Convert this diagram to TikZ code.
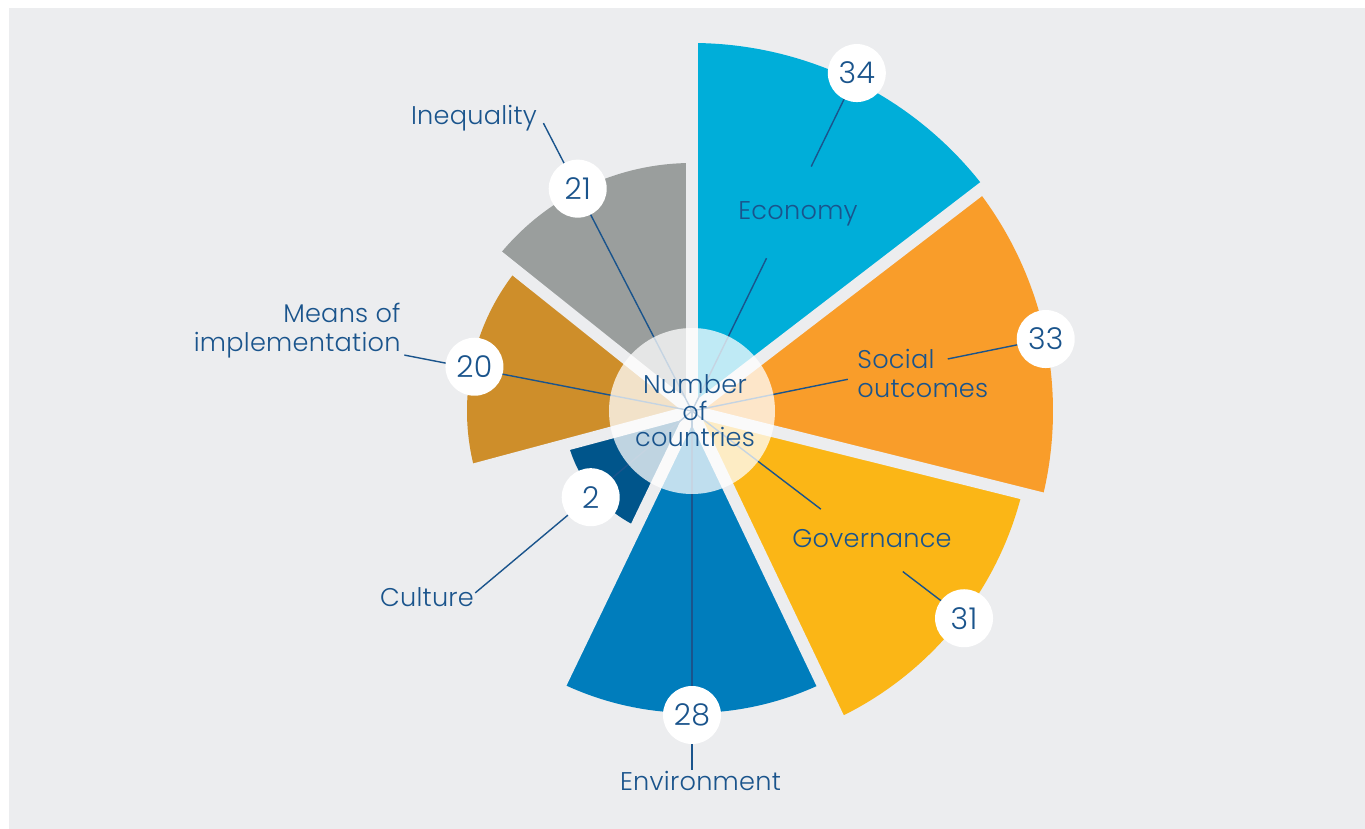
\documentclass[tikz,border=0pt]{standalone}
\usepackage{fontspec}
\setmainfont{Poppins}[UprightFont=* Light, LetterSpace=1]
\usetikzlibrary{positioning}
\definecolor{bggray}{RGB}{236,237,239}
\definecolor{econ}{RGB}{0,174,217}
\definecolor{social}{RGB}{249,157,42}
\definecolor{gov}{RGB}{251,182,22}
\definecolor{envir}{RGB}{0,125,188}
\definecolor{cult}{RGB}{0,85,139}
\definecolor{means}{RGB}{206,142,42}
\definecolor{ineq}{RGB}{154,158,157}
\definecolor{ink}{RGB}{26,84,140}
\tikzset{
  lead/.style={ink, line width=0.7pt},
  numdot/.style={circle, fill=white, minimum size=29pt, inner sep=0pt, text=ink, font=\fontsize{15}{15}\selectfont},
  lab/.style={text=ink, inner sep=0pt, font=\fontsize{12.8}{14.5}\selectfont},
}

\begin{document}
\begin{tikzpicture}[x=0.5pt, y=0.5pt]
\useasboundingbox (-692,-418) rectangle (673,411);
\fill[white] (-692,-418) rectangle (673,411);
\fill[bggray] (-683,-418) rectangle (673,403);
\coordinate (ctr) at (0,0);
% sectors: start / end / radius / colour
\foreach \a/\b/\r/\c in {37.5/90/368/econ, -14/37.5/361/social, -64.5/-14/340/gov,
    -115.7/-64.5/302/envir, -165/-115.7/128/cult, 141.4/195/225/means, 90/141.4/248/ineq}
  \fill[\c] (ctr) -- (\a:\r) arc[start angle=\a, end angle=\b, radius=\r] -- cycle;
% gaps between sectors
\foreach \g in {90, 37.5, -14, -64.5, -115.7, -165, 141.4}
  \draw[bggray, line width=6pt] (ctr) -- (\g:400);

% where the numbers sit
\coordinate (econ-pos) at (64:376);
\coordinate (soc-pos) at (11.5:361);
\coordinate (gov-pos) at (-37.3:342);
\coordinate (env-pos) at (-90:304);
\coordinate (cult-pos) at (220.4:133);
\coordinate (means-pos) at (168.5:222);
\coordinate (ineq-pos) at (117.2:250);
% ends of the leader lines
\coordinate (econ-in) at (64:170);
\coordinate (econ-out) at (64:272);
\coordinate (soc-in) at (11.5:159);
\coordinate (soc-out) at (11.5:261);
\coordinate (gov-in) at (-37.3:162);
\coordinate (gov-out) at (-37.3:265);
\coordinate (env-end) at (-90:359);
\coordinate (cult-end) at (220:283);
\coordinate (means-end) at (169:293);
\coordinate (ineq-end) at (117.3:324);

\draw[lead] (ctr) -- (econ-in) (econ-out) -- (econ-pos);
\draw[lead] (ctr) -- (soc-in) (soc-out) -- (soc-pos);
\draw[lead] (ctr) -- (gov-in) (gov-out) -- (gov-pos);
\draw[lead] (ctr) -- (env-end);
\draw[lead] (ctr) -- (cult-end);
\draw[lead] (ctr) -- (means-end);
\draw[lead] (ctr) -- (ineq-end);

% pale disc in the middle
\fill[white, opacity=0.75] (ctr) circle[radius=83];
\node[lab, align=center, font=\fontsize{12.8}{13.3}\selectfont] (title) at (3,0) {Number\\of\\countries};

\node[numdot] (econ-num) at (econ-pos) {34};
\node[numdot] (soc-num) at (soc-pos) {33};
\node[numdot] (gov-num) at (gov-pos) {31};
\node[numdot] (env-num) at (env-pos) {28};
\node[numdot] (cult-num) at (cult-pos) {2};
\node[numdot] (means-num) at (means-pos) {20};
\node[numdot] (ineq-num) at (ineq-pos) {21};

\node[lab, anchor=base] (econ-lab) at (106,191) {Economy};
\node[lab, align=left, anchor=west] (soc-lab) at (165,38) {Social\\outcomes};
\node[lab, anchor=base] (gov-lab) at (180,-137) {Governance};
\node[lab, anchor=base] (env-lab) at (8.5,-379) {Environment};
\node[lab, anchor=base] (cult-lab) at (-265,-196) {Culture};
\node[lab, align=right, anchor=east] (means-lab) at (-291,80) {Means of\\implementation};
\node[lab, anchor=base] (ineq-lab) at (-218,286) {Inequality};
\end{tikzpicture}
\end{document}
